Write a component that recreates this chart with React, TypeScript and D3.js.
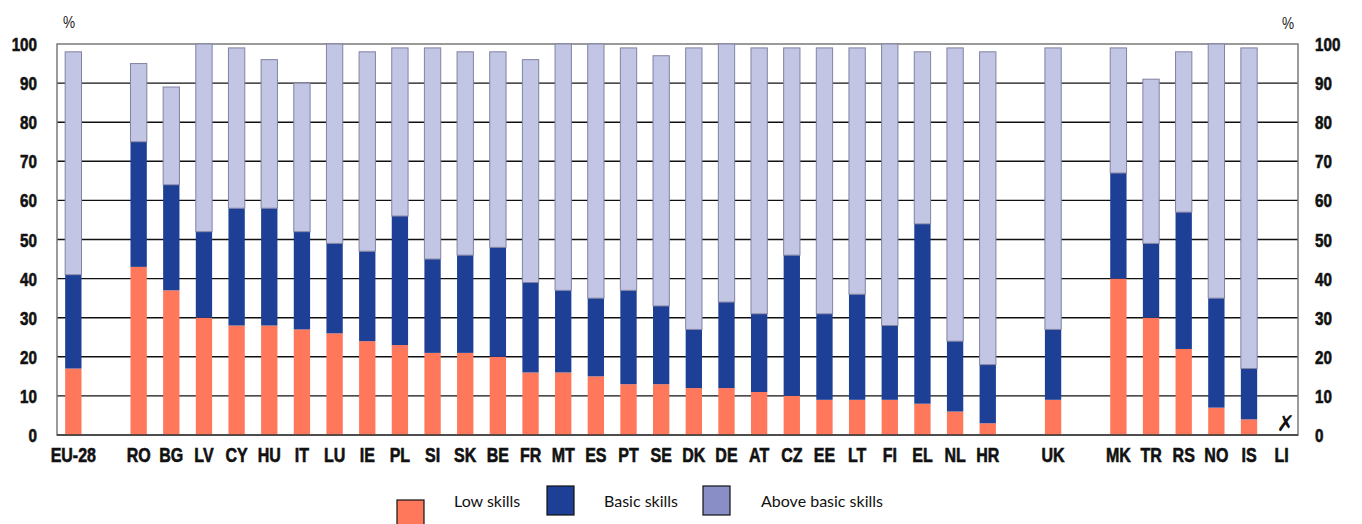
import React from "react";
import * as d3 from "d3";

const countries = ["EU-28","RO","BG","LV","CY","HU","IT","LU","IE","PL","SI","SK","BE","FR","MT","ES","PT","SE","DK","DE","AT","CZ","EE","LT","FI","EL","NL","HR","UK","MK","TR","RS","NO","IS","LI"];
const gapsAfter = ["EU-28","HR","UK"];
const lowSkills =   [17,43,37,30,28,28,27,26,24,23,21,21,20,16,16,15,13,13,12,12,11,10,9,9,9,8,6,3,9,40,30,22,7,4,null];
const basicSkills = [24,32,27,22,30,30,25,23,23,33,24,25,28,23,21,20,24,20,15,22,20,36,22,27,19,46,18,15,18,27,19,35,28,13,null];
const aboveBasic =  [57,20,25,48,41,38,38,51,51,43,54,52,50,57,63,65,62,64,72,66,68,53,68,63,72,44,75,80,72,32,42,41,65,82,null];
const yTicks = [0,10,20,30,40,50,60,70,80,90,100];
const seriesKeys = ["low","basic","above"];
const seriesLabels = ["Low skills","Basic skills","Above basic skills"];
const barColors = ["#FF785C","#1D3F96","#C2C5E3"];
const legendColors = ["#FF785C","#1D3F96","#8A8EC6"];

const W = 1362, H = 524;
const L = 57, R = 1298, T = 44, B = 435;

export default function App() {
  const slots: string[] = [];
  countries.forEach((c) => {
    slots.push(c);
    if (gapsAfter.includes(c)) slots.push("_gap_" + c);
  });
  const x = d3.scaleBand<string>().domain(slots).range([L, R]).paddingInner(0.5).paddingOuter(0.25);
  const y = d3.scaleLinear().domain([0, 100]).range([B, T]);

  const rows = countries.map((c, i) => ({
    country: c,
    low: lowSkills[i] ?? 0,
    basic: basicSkills[i] ?? 0,
    above: aboveBasic[i] ?? 0,
    missing: lowSkills[i] == null,
  }));
  const stacked = d3.stack<any>().keys(seriesKeys)(rows);

  const axisFont = "'Liberation Sans', Arial, sans-serif";
  const sx = 0.8;
  const heavy = { stroke: "#111", strokeWidth: 0.6 };

  return (
    <svg width={W} height={H} style={{ position: "absolute", left: 0, top: 0, background: "#fff" }}>
      {yTicks.filter((t) => t > 0 && t < 100).map((t) => (
        <line key={"g" + t} x1={L} x2={R} y1={y(t)} y2={y(t)} stroke="#111" strokeWidth={1.4} />
      ))}
      <rect x={L} y={T} width={R - L} height={B - T} fill="none" stroke="#7a7a7a" strokeWidth={1.5} />
      {stacked.map((layer, li) => (
        <g key={layer.key}>
          {layer.map((d, i) =>
            rows[i].missing ? null : (
              <rect
                key={rows[i].country}
                x={x(rows[i].country)!}
                width={x.bandwidth()}
                y={y(d[1])}
                height={y(d[0]) - y(d[1])}
                fill={barColors[li]}
                stroke={li === 2 ? "#8083a3" : "none"}
                strokeWidth={li === 2 ? 1 : 0}
              />
            )
          )}
        </g>
      ))}
      <line x1={L} x2={R} y1={B} y2={B} stroke="#333" strokeWidth={1.5} />
      {rows.filter((r) => r.missing).map((r) => (
        <text key={"m" + r.country} x={x(r.country)! + x.bandwidth() / 2 + 4} y={B - 4} textAnchor="middle"
          fontFamily="'DejaVu Sans', sans-serif" fontWeight="bold" fontSize={22} fill="#111">✗</text>
      ))}
      {yTicks.map((t) => (
        <text key={"l" + t} transform={`translate(37,${y(t) + 7}) scale(${sx},1)`} textAnchor="end"
          fontFamily={axisFont} fontWeight="bold" fontSize={19} fill="#111" {...heavy}>{t}</text>
      ))}
      {yTicks.map((t) => (
        <text key={"r" + t} transform={`translate(1315,${y(t) + 7}) scale(${sx},1)`} textAnchor="start"
          fontFamily={axisFont} fontWeight="bold" fontSize={19} fill="#111" {...heavy}>{t}</text>
      ))}
      <text transform={`translate(63,28) scale(${sx},1)`} fontFamily={axisFont} fontSize={17} fill="#222">%</text>
      <text transform={`translate(1282,29) scale(${sx},1)`} fontFamily={axisFont} fontSize={17} fill="#222">%</text>
      {countries.map((c) => (
        <text key={"x" + c} transform={`translate(${x(c)! + x.bandwidth() / 2},462) scale(${sx},1)`} textAnchor="middle"
          fontFamily={axisFont} fontWeight="bold" fontSize={20} fill="#111" {...heavy}>{c}</text>
      ))}
      {seriesLabels.map((s, i) => {
        const boxes = [[397, 500], [547, 486], [703, 486]];
        const textX = [454, 604, 761];
        return (
          <g key={"lg" + i}>
            <rect x={boxes[i][0]} y={boxes[i][1]} width={27} height={29} fill={legendColors[i]} stroke="#111" strokeWidth={1.2} />
            <text x={textX[i]} y={507} fontFamily="Lato, 'Open Sans', sans-serif" fontSize={16} fill="#111">{s}</text>
          </g>
        );
      })}
    </svg>
  );
}
